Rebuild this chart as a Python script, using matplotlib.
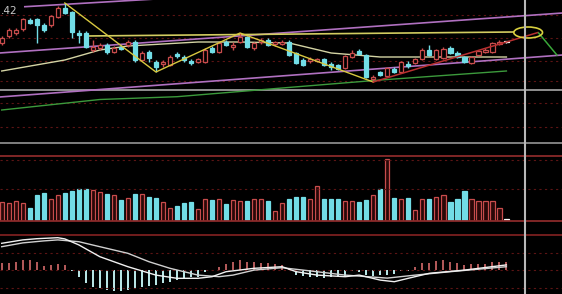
import matplotlib
matplotlib.use('Agg')
import matplotlib.pyplot as plt
import matplotlib.transforms as mtransforms
from matplotlib.lines import Line2D
from matplotlib.patches import Ellipse
import numpy as np

# daily candles (73 sessions)
opens = [7.07, 7.14, 7.17, 7.21, 7.30, 7.31, 7.25, 7.25, 7.33, 7.42,
         7.38, 7.17, 7.17, 7.00, 7.02, 7.05, 6.98, 7.03, 7.05, 7.08,
         6.90, 6.98, 6.88, 6.86, 6.85, 6.96, 6.93, 6.89, 6.88, 6.88,
         7.02, 6.98, 7.08, 7.03, 7.08, 7.13, 7.02, 7.08, 7.10, 7.06,
         7.06, 7.08, 6.97, 6.90, 6.89, 6.89, 6.91, 6.86, 6.85, 6.82,
         6.93, 6.99, 6.95, 6.71, 6.78, 6.74, 6.81, 6.78, 6.86, 6.87,
         6.91, 7.00, 6.91, 6.92, 7.02, 6.97, 6.93, 6.87, 6.95, 6.98,
         6.98, 7.06, 7.08]
closes = [7.12, 7.20, 7.20, 7.31, 7.27, 7.25, 7.20, 7.34, 7.42, 7.37,
          7.18, 7.15, 7.03, 7.03, 7.05, 6.98, 7.02, 7.01, 7.08, 6.90,
          6.97, 6.92, 6.83, 6.88, 6.93, 6.94, 6.90, 6.87, 6.91, 7.00,
          6.98, 7.07, 7.05, 7.05, 7.13, 7.03, 7.07, 7.10, 7.05, 7.08,
          7.08, 6.95, 6.87, 6.85, 6.91, 6.91, 6.85, 6.83, 6.81, 6.94,
          6.97, 6.96, 6.73, 6.73, 6.75, 6.82, 6.78, 6.88, 6.84, 6.91,
          7.00, 6.95, 7.00, 7.01, 6.97, 6.93, 6.88, 6.93, 6.99, 7.00,
          7.07, 7.08, 7.08]
highs = [7.14, 7.22, 7.22, 7.32, 7.32, 7.32, 7.27, 7.35, 7.44, 7.47,
         7.39, 7.20, 7.19, 7.10, 7.07, 7.07, 7.04, 7.05, 7.10, 7.10,
         6.99, 7.00, 6.90, 6.90, 6.95, 6.98, 6.95, 6.91, 6.92, 7.02,
         7.04, 7.08, 7.10, 7.08, 7.17, 7.14, 7.08, 7.12, 7.12, 7.09,
         7.10, 7.10, 6.98, 6.92, 6.93, 6.92, 6.92, 6.88, 6.86, 6.95,
         7.00, 7.01, 6.96, 6.75, 6.79, 6.83, 6.83, 6.89, 6.89, 6.92,
         7.02, 7.05, 7.01, 7.03, 7.04, 6.99, 6.94, 6.94, 7.00, 7.02,
         7.08, 7.10, 7.08]
lows = [7.05, 7.12, 7.15, 7.19, 7.26, 7.07, 7.18, 7.23, 7.32, 7.36,
        7.12, 7.07, 7.02, 6.98, 7.00, 6.96, 6.97, 7.00, 7.03, 6.88,
        6.89, 6.88, 6.78, 6.83, 6.84, 6.92, 6.88, 6.85, 6.87, 6.87,
        6.97, 6.97, 7.04, 7.00, 7.07, 7.02, 7.00, 7.06, 7.04, 7.04,
        7.05, 6.94, 6.86, 6.84, 6.87, 6.88, 6.84, 6.80, 6.80, 6.81,
        6.92, 6.95, 6.72, 6.68, 6.74, 6.73, 6.77, 6.77, 6.82, 6.86,
        6.90, 6.94, 6.90, 6.91, 6.96, 6.92, 6.87, 6.86, 6.94, 6.97,
        6.97, 7.05, 7.07]
volumes = [1930, 1830, 2000, 1830, 1330, 2600, 2770, 2200, 2570, 2770,
           3030, 3170, 3170, 3100, 2870, 2670, 2600, 2100, 2270, 2700,
           2670, 2370, 2330, 1900, 1330, 1530, 1770, 1870, 1170, 2170,
           2100, 2200, 1700, 2100, 2000, 2030, 2170, 2170, 1970, 1000,
           1830, 2170, 2370, 2430, 2170, 3500, 2170, 2170, 2200, 2030,
           2000, 1870, 2100, 2600, 3200, 6200, 2330, 2200, 2270, 1100,
           2170, 2170, 2370, 2600, 1930, 2200, 3000, 2170, 2030, 2000,
           2030, 1330, 200]
macd_hist = [0.033, 0.033, 0.038, 0.048, 0.048, 0.038, 0.020, 0.023, 0.028, 0.023,
             -0.008, -0.036, -0.068, -0.086, -0.093, -0.103, -0.106, -0.106, -0.103, -0.093,
             -0.086, -0.081, -0.078, -0.068, -0.061, -0.053, -0.044, -0.039, -0.036, -0.011,
             -0.003, 0.014, 0.026, 0.036, 0.048, 0.039, 0.036, 0.034, 0.031, 0.026,
             0.023, 0.005, -0.028, -0.033, -0.038, -0.038, -0.040, -0.038, -0.038, -0.033,
             -0.008, -0.013, -0.028, -0.030, -0.028, -0.025, -0.023, -0.005, -0.005, 0.014,
             0.034, 0.034, 0.043, 0.048, 0.039, 0.031, 0.023, 0.026, 0.026, 0.026,
             0.036, 0.039, 0.039]
dif_idx = [0, 3, 5, 8, 9, 11, 14, 18, 22, 25, 28, 30, 32, 36, 40, 42, 45, 49, 51, 54, 56, 58, 61, 66, 72]
dif_val = [0.131, 0.148, 0.154, 0.159, 0.153, 0.123, 0.064, 0.014, -0.028, -0.044, -0.044, -0.036,
           -0.011, 0.006, 0.014, -0.011, -0.028, -0.036, -0.028, -0.053, -0.061, -0.044, -0.019,
           -0.003, 0.023]
dea_idx = [0, 3, 6, 8, 11, 14, 18, 21, 24, 28, 31, 33, 36, 40, 43, 49, 55, 59, 64, 72]
dea_val = [0.114, 0.133, 0.143, 0.148, 0.139, 0.114, 0.081, 0.039, 0.006, -0.028, -0.036, -0.028,
           -0.003, 0.009, -0.003, -0.028, -0.043, -0.028, -0.011, 0.014]

# moving averages read at a few sessions
ma_light_idx = [0, 9, 14, 18, 28, 34, 41, 47, 54, 63, 72]
ma_light_val = [6.79, 6.90, 7.00, 7.04, 7.08, 7.08, 7.07, 6.97, 6.93, 6.93, 6.93]
ma_green_idx = [0, 14, 25, 40, 54, 62, 72]
ma_green_val = [6.40, 6.505, 6.533, 6.62, 6.70, 6.74, 6.79]

# drawn objects
zigzag_idx = [9, 22, 34, 53]
zigzag_val = [highs[9], lows[22], highs[34], lows[53]]
target_idx, target_val = 76.5, 7.175
ellipse_idx, ellipse_val = 75.1, 7.175
drop_idx = [76.6, 79.2]
drop_val = [7.17, 6.95]
flat_idx = [11.9, 73.0]
flat_val = [7.14, 7.18]
chan_top_idx = [3.3, 22.0]
chan_top_val = [7.433, 7.51]
chan_up_idx = [-0.3, 80.0]
chan_up_val = [6.97, 7.37]
chan_lo_idx = [-0.3, 80.0]
chan_lo_val = [6.53, 6.95]
price_grid = [7.35, 7.12, 6.89, 6.69, 6.47, 6.23]
vol_grid = [6100, 3200]
macd_grid = [0.083, 0.0, -0.093]
cursor_idx = 74.6

RED = '#c84c4c'
CYAN = '#72dde6'
PURPLE = '#b070c0'
GRID = '#5c1414'

H = 294.0
fig = plt.figure(figsize=(5.62, 2.94), dpi=100, facecolor='black')


def px_axes(top, bottom):
    ax = fig.add_axes([0, 1 - bottom / H, 1, (bottom - top) / H])
    ax.set_facecolor('black')
    ax.set_axis_off()
    ax.set_xlim(-1.7 / 7.01, (562 - 1.7) / 7.01)
    return ax


ax_p = px_axes(0, 143)
ax_v = px_axes(156, 221)
ax_m = px_axes(235, 294)
ax_p.set_ylim(6.07, 7.50)
ax_v.set_ylim(0, 6500)
ax_m.set_ylim(-0.1225, 0.1725)

x = np.arange(len(opens))
o = np.array(opens)
c = np.array(closes)
up = c > o
flat = c == o
colors = np.where(up, RED, CYAN)
colors = np.where(flat, 'white', colors)

for y in price_grid:
    ax_p.axhline(y, color=GRID, lw=0.8, ls=(0, (2, 3)))
for y in vol_grid:
    ax_v.axhline(y, color=GRID, lw=0.8, ls=(0, (2, 3)))
for y in macd_grid:
    ax_m.axhline(y, color=GRID, lw=0.8, ls=(0, (2, 3)))
ax_p.axhline(6.60, color='#9a9a9a', lw=1.3)

# lines behind candles
ax_p.plot(ma_green_idx, ma_green_val, color='#3c9a3c', lw=1)
ax_p.plot(ma_light_idx, ma_light_val, color='#d4d4a4', lw=1)
ax_p.plot(chan_top_idx, chan_top_val, color=PURPLE, lw=1.2)
ax_p.plot(chan_up_idx, chan_up_val, color=PURPLE, lw=1.2)
ax_p.plot(chan_lo_idx, chan_lo_val, color=PURPLE, lw=1.2)
ax_p.plot(flat_idx, flat_val, color='#d2cc60', lw=1.2)

# candles
ax_p.vlines(x, lows, highs, colors=colors, lw=1, zorder=3)
body = np.maximum(np.abs(c - o), 0.012)
face = np.where(up, 'black', colors)
ax_p.bar(x, body, bottom=np.minimum(o, c), width=0.62, color=face,
         edgecolor=colors, lw=0.9, zorder=4)

ax_p.plot(zigzag_idx, zigzag_val, color='#d8c840', lw=1, zorder=5)
ax_p.plot([53, target_idx], [lows[53], target_val], color='#b83030', lw=1.1, zorder=5)
ax_p.plot(drop_idx, drop_val, color='#3aa83a', lw=1.1, zorder=5)
ax_p.add_patch(Ellipse((ellipse_idx, ellipse_val), 4.1, 0.11, fill=False,
                       edgecolor='#d8d040', lw=1.2, zorder=5))

# volume
vface = np.where(up, '#2a0808', colors)
ax_v.bar(x, volumes, width=0.62, color=vface, edgecolor=colors, lw=0.9)

# macd
h = np.array(macd_hist)
ax_m.bar(x, h, width=0.28, color=np.where(h >= 0, '#b05858', '#b8e4e4'))
ax_m.plot(dea_idx, dea_val, color='#d0d0d0', lw=1)
ax_m.plot(dif_idx, dif_val, color='#f0f0f0', lw=1)

# panel separators and cursor
for yy, col in [(143, '#8a8a8a'), (156, '#8a2a2a'), (221, '#8a2a2a'), (235, '#7a2020')]:
    fig.add_artist(Line2D([0, 1], [1 - yy / H] * 2, transform=fig.transFigure,
                          color=col, lw=1.3))
trans = mtransforms.blended_transform_factory(ax_p.transData, fig.transFigure)
fig.add_artist(Line2D([cursor_idx] * 2, [0, 1], transform=trans, color='#b8b8b8', lw=1.5))

fig.text(1.0 / 562, 1 - 11.5 / H, '.42', color='#c8c8c8', fontsize=7.5,
         ha='left', va='center')

fig.savefig('out.png', dpi=100, facecolor='black')
